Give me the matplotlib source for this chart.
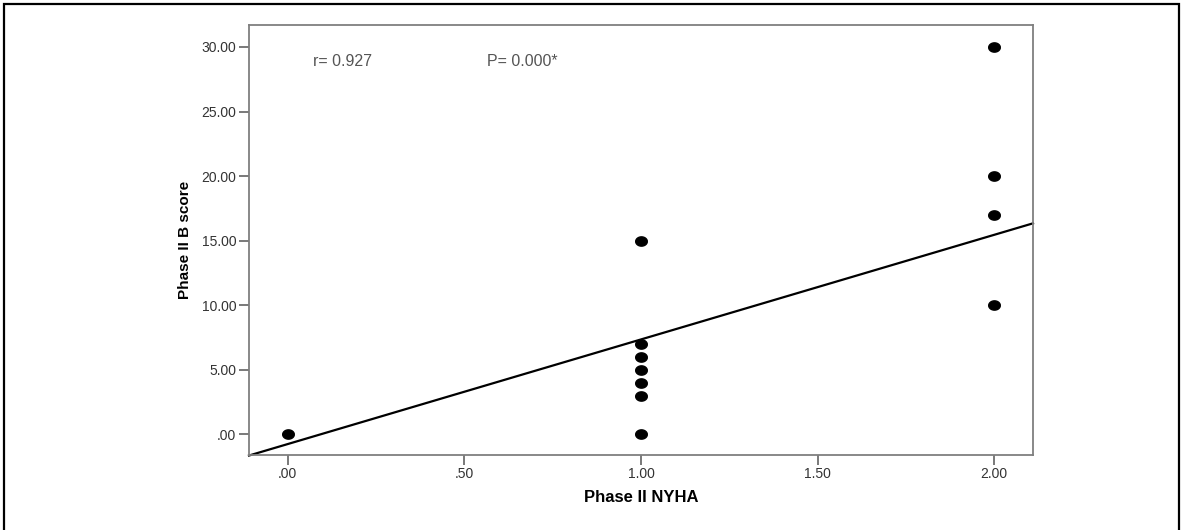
import numpy as np
import matplotlib
matplotlib.use("Agg")
import matplotlib.pyplot as plt
from matplotlib.patches import Rectangle

plt.rcParams["font.family"] = ["Liberation Sans", "DejaVu Sans"]

# data
nyha = [0, 1, 1, 1, 1, 1, 1, 1, 2, 2, 2, 2]
b_score = [0, 15, 7, 6, 5, 4, 3, 0, 30, 20, 17, 10]

# fitted line
fit_intercept = -0.75
fit_slope = 8.1

x_ticks = [0, 0.5, 1.0, 1.5, 2.0]
x_ticklabels = [".00", ".50", "1.00", "1.50", "2.00"]
y_ticks = [0, 5, 10, 15, 20, 25, 30]
y_ticklabels = [".00", "5.00", "10.00", "15.00", "20.00", "25.00", "30.00"]

r_text = "r= 0.927"
p_text = "P= 0.000*"

W, H = 1181, 530
fig = plt.figure(figsize=(W / 100, H / 100), dpi=100)
fig.patch.set_facecolor("white")

# outer frame
fig.add_artist(Rectangle((4 / W, -0.01), (1179 - 4) / W, (H - 4) / H + 0.01,
                         transform=fig.transFigure, fill=False,
                         edgecolor="black", linewidth=1.6))

ax = fig.add_axes([249 / W, (H - 455) / H, (1033 - 249) / W, (455 - 25) / H])
ax.set_xlim(-0.11, 2.11)
ax.set_ylim(-1.6, 31.7)

# slightly wide dot marker
t = np.linspace(0, 2 * np.pi, 40)
dot = list(zip(1.25 * np.cos(t), np.sin(t)))
ax.scatter(nyha, b_score, marker=dot, s=70, color="black", zorder=3)

xl = np.array(ax.get_xlim())
ax.plot(xl, fit_intercept + fit_slope * xl, color="black", lw=1.6,
        clip_on=False, zorder=2)

ax.text(0.07, 28.9, r_text, fontsize=11.5, color="#555555", va="center")
ax.text(0.564, 28.9, p_text, fontsize=11.5, color="#555555", va="center")

for s in ax.spines.values():
    s.set_color("#7f7f7f")
    s.set_linewidth(1.3)

ax.set_xticks(x_ticks)
ax.set_xticklabels(x_ticklabels)
ax.set_yticks(y_ticks)
ax.set_yticklabels(y_ticklabels)
ax.tick_params(direction="out", length=7, width=1.1, color="#555555",
               labelsize=10, labelcolor="#333333", pad=2)

ax.set_xlabel("Phase II NYHA", fontsize=12, fontweight="bold", labelpad=6)
ax.set_ylabel("Phase II B score", fontsize=11, fontweight="bold", labelpad=7)

fig.savefig("out.png", dpi=100)
